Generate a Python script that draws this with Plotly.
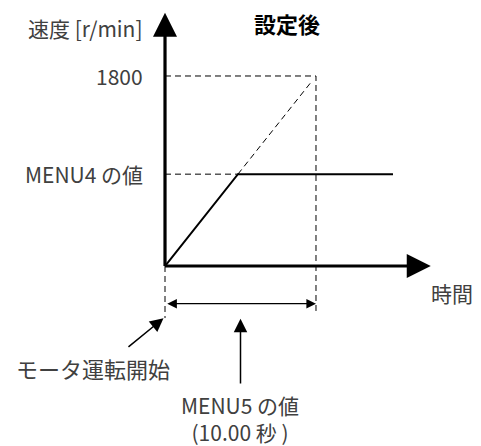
import plotly.graph_objects as go

# speed profile (time in s, speed in r/min)
ramp_time = [0, 4.83, 15.1]
ramp_speed = [0, 870, 870]

# reference (dashed) lines
target_time = 10.0
target_speed = 1800
menu4_speed = 870
menu4_time = 4.83
diag_time = [4.83, 9.7]
diag_speed = [870, 1746]

# labels
title_text = "設定後"
y_label = "速度 [r/min]"
x_label = "時間"
tick_labels = ["1800", "MENU4 の値"]
start_label = "モータ運転開始"
menu5_label = "MENU5 の値<br>(10.00 秒 )"

FONT = "Noto Sans CJK JP, Noto Sans, sans-serif"
TXT = "#404040"
DASH = "6px,4px"

fig = go.Figure()

# dashed guides
fig.add_trace(go.Scatter(x=[0, target_time, target_time], y=[target_speed, target_speed, -426],
                         mode="lines", line=dict(color="black", width=1, dash=DASH)))
fig.add_trace(go.Scatter(x=[0, menu4_time], y=[menu4_speed, menu4_speed],
                         mode="lines", line=dict(color="black", width=1, dash=DASH)))
fig.add_trace(go.Scatter(x=diag_time, y=diag_speed,
                         mode="lines", line=dict(color="black", width=1, dash=DASH)))
fig.add_trace(go.Scatter(x=[0, 0], y=[0, -493],
                         mode="lines", line=dict(color="black", width=1, dash=DASH)))

# actual speed profile
fig.add_trace(go.Scatter(x=ramp_time, y=ramp_speed, mode="lines",
                         line=dict(color="black", width=2)))

arrows = [
    # axes
    dict(x=0, y=2400, ax=0, ay=-15, w=3.2, side="end", head=2, size=1.5),
    dict(x=17.6, y=0, ax=-0.1, ay=0, w=3.2, side="end", head=2, size=1.5),
    # MENU5 span
    dict(x=10, y=-357, ax=0.05, ay=-357, w=1.2, side="end+start", head=2, size=1.6),
    # pointer to span
    dict(x=5.0, y=-500, ax=5.0, ay=-1127, w=1.5, side="end", head=2, size=1.8),
    # pointer to start
    dict(x=-0.1, y=-495, ax=-2.52, ay=-777, w=1.5, side="end", head=2, size=1.8),
]
for a in arrows:
    fig.add_annotation(x=a["x"], y=a["y"], ax=a["ax"], ay=a["ay"], xref="x", yref="y",
                       axref="x", ayref="y", text="", showarrow=True,
                       arrowhead=a["head"], arrowside=a["side"], arrowsize=a["size"],
                       arrowwidth=a["w"], arrowcolor="black",
                       startarrowhead=a["head"], startarrowsize=a["size"])

texts = [
    dict(x=-1.3, y=2255, t=y_label, xa="right", s=21),
    dict(x=-1.3, y=target_speed, t=tick_labels[0], xa="right", s=21),
    dict(x=-1.3, y=menu4_speed, t=tick_labels[1], xa="right", s=21),
    dict(x=19.0, y=-256, t=x_label, xa="center", s=21),
    dict(x=-4.77, y=-966, t=start_label, xa="center", s=22),
    dict(x=4.97, y=-1440, t=menu5_label, xa="center", s=21),
]
for t in texts:
    fig.add_annotation(x=t["x"], y=t["y"], text=t["t"], showarrow=False,
                       xanchor=t["xa"], yanchor="middle",
                       font=dict(family=FONT, size=t["s"], color=TXT))

fig.add_annotation(x=8.08, y=2302, text="<b>" + title_text + "</b>", showarrow=False,
                   font=dict(family=FONT, size=22, color="black"))

# page body has an 8px margin, so the figure covers reference pixels 8..481 / 8..446
fig.update_layout(
    width=473, height=438,
    margin=dict(l=0, r=0, t=0, b=0),
    paper_bgcolor="white", plot_bgcolor="white",
    showlegend=False,
    xaxis=dict(range=[-10.40, 20.93], visible=False),
    yaxis=dict(range=[-1705, 2444], visible=False),
)

fig.write_html("out.html")
